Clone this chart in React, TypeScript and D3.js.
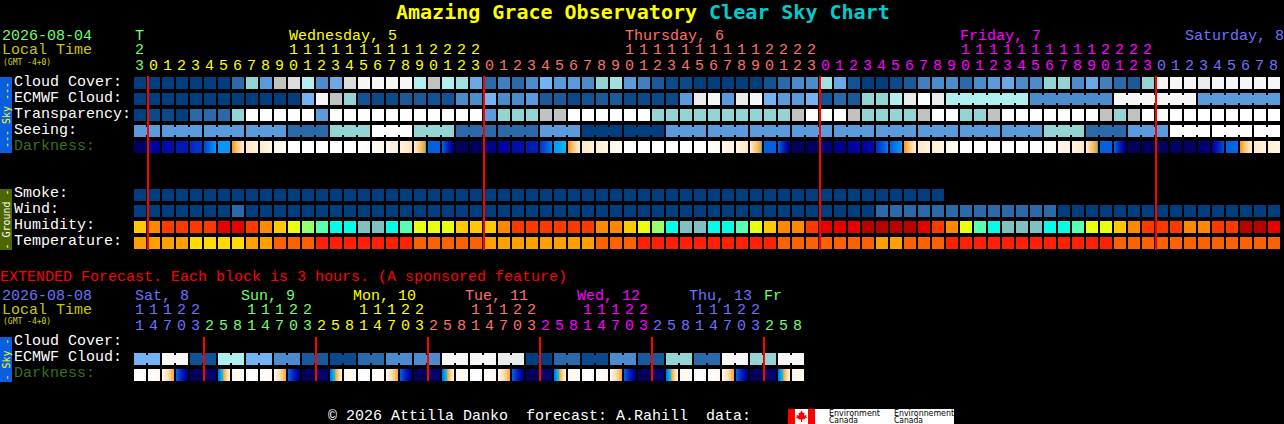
import React from 'react';
import * as d3 from 'd3';

// Hour labels, one per column
const mainHours = [23, 0, 1, 2, 3, 4, 5, 6, 7, 8, 9, 10, 11, 12, 13, 14, 15, 16, 17, 18, 19, 20, 21, 22, 23, 0, 1, 2, 3, 4, 5, 6, 7, 8, 9, 10, 11, 12, 13, 14, 15, 16, 17, 18, 19, 20, 21, 22, 23, 0, 1, 2, 3, 4, 5, 6, 7, 8, 9, 10, 11, 12, 13, 14, 15, 16, 17, 18, 19, 20, 21, 22, 23, 0, 1, 2, 3, 4, 5, 6, 7, 8];
const extHours = [11, 14, 17, 20, 23, 2, 5, 8, 11, 14, 17, 20, 23, 2, 5, 8, 11, 14, 17, 20, 23, 2, 5, 8, 11, 14, 17, 20, 23, 2, 5, 8, 11, 14, 17, 20, 23, 2, 5, 8, 11, 14, 17, 20, 23, 2, 5, 8];

const GREEN = '#70ff70';
const YELLOW = '#ffff00';
const SALMON = '#ff7070';
const MAGENTA = '#ff00ff';
const BLUE = '#7070ff';
const mainDayColors = [GREEN, YELLOW, SALMON, MAGENTA, BLUE];
const extDayColors = [BLUE, GREEN, YELLOW, SALMON, MAGENTA, BLUE, GREEN];

const mainDays = ['T', 'Wednesday, 5', 'Thursday, 6', 'Friday, 7', 'Saturday, 8'];
const extDays = ['Sat, 8', 'Sun, 9', 'Mon, 10', 'Tue, 11', 'Wed, 12', 'Thu, 13', 'Fr'];

// Sky rows: levels index into skyPalette
const cloudCover = [0, 0, 0, 0, 0, 0, 0, 4, 10, 7, 13, 14, 12, 6, 8, 14, 16, 16, 16, 16, 12, 13, 12, 11, 8, 4, 5, 4, 6, 9, 7, 7, 6, 10, 11, 7, 5, 3, 1, 1, 0, 0, 0, 0, 0, 2, 4, 6, 6, 11, 8, 2, 0, 0, 1, 3, 5, 6, 6, 4, 6, 7, 8, 6, 6, 10, 10, 6, 8, 5, 4, 3, 10, 16, 16, 16, 15, 16, 16, 16, 16, 16];
const ecmwfCloud = [0, 0, 0, 0, 0, 0, 0, 0, 0, 0, 0, 0, 9, 16, 13, 10, 2, 1, 1, 3, 3, 2, 2, 6, 6, 9, 6, 6, 7, 3, 3, 1, 2, 3, 3, 1, 1, 1, 1, 7, 15, 16, 7, 15, 16, 9, 7, 7, 9, 2, 4, 3, 10, 10, 12, 15, 17, 15, 12, 6, 16, 7];
const ecmwfSpans = [1, 1, 1, 1, 1, 1, 1, 1, 1, 1, 1, 1, 1, 1, 1, 1, 1, 1, 1, 1, 1, 1, 1, 1, 1, 1, 1, 1, 1, 1, 1, 1, 1, 1, 1, 1, 1, 1, 1, 1, 1, 1, 1, 1, 1, 1, 1, 1, 1, 1, 1, 1, 1, 1, 1, 1, 1, 1, 6, 6, 6, 6];
const transparency = [0, 1, 1, 0, 4, 4, 4, 10, 17, 17, 17, 17, 17, 7, 17, 17, 17, 17, 17, 17, 17, 17, 17, 17, 17, 7, 10, 10, 10, 13, 13, 17, 17, 17, 17, 17, 17, 10, 10, 10, 10, 10, 10, 10, 10, 10, 10, 13, 17, 17, 17, 13, 10, 10, 10, 10, 13, 17, 17, 10, 10, 13, 17, 17, 17, 17, 17, 17, 17, 13, 10, 13, 17, 17, 17, 17, 17, 17, 17, 17, 17, 17];
const seeing = [7, 7, 7, 7, 4, 10, 17, 10, 4, 4, 7, 0, 0, 7, 7, 7, 7, 7, 7, 7, 7, 7, 10, 4, 7, 17, 17, 17];
const seeingSpans = [2, 3, 3, 3, 3, 3, 3, 3, 3, 3, 3, 3, 3, 3, 3, 3, 3, 3, 3, 3, 3, 3, 3, 3, 3, 3, 3, 2];

// Sky brightness at the left and right edge of each block, as limiting magnitude (negative is daylight)
const darknessLeft = [5.8, 5, 4.6, 4, 3.5, 2.5, 1, -0.1, -2, -2.2, -3, -4, -4, -4, -4, -4, -4, -3.5, -3.1, -2.7, -2, 2, 2, 5.9, 5.9, 5.5, 5, 4.5, 4, 3, 1, -0.1, -2, -2.3, -3, -4, -4, -4, -4, -4, -4, -3.9, -3.2, -2.8, -2, 2, 2, 5.9, 5.9, 5.7, 5.3, 5, 5, 3.2, 2, -0.1, -2, -2.4, -3, -4, -4, -4, -4, -4, -4, -3.8, -3.2, -2.8, -2, 2, 2, 5.9, 5.9, 5.9, 5.8, 5.8, 5.6, 5, 2, -0.1, -2, -2.4];
const darknessRight = [5.6, 5, 4.4, 4, 3, 1, 1, -2.2, -2.6, -3, -3.5, -4, -4, -4, -4, -4, -3.6, -3.1, -2.5, -1.8, 0, 2, 5.5, 5.9, 5.9, 5.2, 4.8, 4.4, 3.8, 1.5, 0.4, -2.2, -2.6, -3, -3.6, -4, -4, -4, -4, -4, -4, -3.5, -2.7, -2, 0, 2, 5.5, 5.9, 5.9, 5.5, 5.2, 4.8, 4.6, 1.5, 1, -2.2, -2.7, -3, -3.6, -4, -4, -4, -4, -4, -4, -3.4, -2.7, -2, 0, 2, 5.5, 5.9, 5.9, 5.9, 5.8, 5.8, 5.4, 2.5, 1.8, -2.2, -2.7, -3];

// Ground rows
const smoke = [0, 0, 0, 0, 0, 0, 0, 0, 0, 0, 0, 0, 0, 0, 0, 0, 0, 0, 0, 0, 0, 0, 0, 0, 0, 0, 0, 0, 0, 0, 0, 0, 0, 0, 0, 0, 0, 0, 0, 0, 0, 0, 0, 0, 0, 0, 0, 0, 0, 0, 0, 0, 0, 0, 0, 0, 0, 0];
const wind = [0, 0, 0, 0, 0, 0, 0, 4, 0, 0, 0, 0, 0, 0, 0, 0, 0, 0, 0, 0, 0, 0, 0, 0, 0, 0, 0, 0, 0, 0, 0, 0, 0, 0, 0, 0, 0, 0, 0, 0, 0, 0, 0, 0, 0, 0, 0, 0, 0, 0, 0, 0, 0, 4, 4, 4, 4, 4, 4, 4, 4, 4, 4, 4, 4, 4, 0, 0, 0, 0, 0, 0, 0, 0, 0, 0, 0, 0, 0, 0, 0, 0];
const humidity = [4, 3, 2, 2, 2, 2, 1, 1, 2, 3, 4, 5, 6, 7, 8, 8, 9, 9, 8, 7, 5, 5, 5, 4, 4, 4, 3, 2, 2, 2, 2, 2, 2, 3, 3, 4, 5, 6, 8, 9, 9, 8, 8, 7, 5, 4, 3, 3, 2, 1, 1, 1, 0, 0, 0, 0, 1, 2, 3, 5, 7, 8, 9, 9, 9, 8, 8, 7, 5, 5, 4, 3, 2, 2, 2, 3, 3, 2, 2, 0, 0, 1];
const temperature = [2, 2, 2, 2, 3, 3, 3, 3, 2, 2, 1, 1, 1, 0, 0, 0, 0, 0, 0, 0, 1, 1, 1, 1, 1, 2, 2, 2, 2, 2, 2, 2, 2, 1, 1, 1, 0, 0, 0, 0, 0, 0, 0, 0, 0, 0, 1, 1, 1, 1, 1, 1, 1, 2, 2, 1, 1, 1, 0, 0, 0, 0, 0, 0, 0, 0, 0, 0, 0, 0, 1, 1, 1, 1, 1, 1, 1, 1, 1, 1, 1, 1];

// Extended forecast
const extEcmwf = [9, 16, 2, 12, 9, 6, 3, 1, 4, 6, 6, 16, 16, 15, 0, 4, 1, 6, 3, 10, 4, 16, 10, 16];
const extEcmwfSpans = [2, 2, 2, 2, 2, 2, 2, 2, 2, 2, 2, 2, 2, 2, 2, 2, 2, 2, 2, 2, 2, 2, 2, 2];
const extDarkLeft = [-4, -4, -3, 2, 5.9, 5.8, 1.6, -3, -4, -4, -3, 2, 5.9, 5.8, 1.6, -3, -4, -4, -3, 2, 5.9, 5.8, 1.6, -3, -4, -4, -3, 2, 5.9, 5.8, 1.6, -3, -4, -4, -3, 2, 5.9, 5.8, 1.6, -3, -4, -4, -3, 2, 5.9, 5.8, 1.6, -3];
const extDarkRight = [-4, -3.2, -0.3, 5.5, 5.9, 5.6, -2.4, -3.8, -4, -3.4, -0.3, 5.5, 5.9, 5.6, -2.4, -3.8, -4, -3.4, -0.3, 5.5, 5.9, 5.6, -2.4, -3.8, -4, -3.2, -0.3, 5.5, 5.9, 5.6, -2.4, -3.8, -4, -3.2, -0.3, 5.5, 5.9, 5.6, -2.4, -3.8, -4, -3.2, -0.3, 5.5, 5.9, 5.6, -2.4, -3.5];

const skyPalette = ['#003f7f', '#0a4a8a', '#0f5296', '#1a5a9a', '#2a6aaa', '#4080c0', '#4a8ccc', '#5a9bde', '#6aa8e8', '#73b3f3', '#93d5d5', '#a0e0e0', '#afefef', '#c2c2c2', '#dcdcdc', '#ebebeb', '#f6f6f6', '#ffffff'];
const humidityPalette = ['#b80000', '#e80000', '#ff3800', '#ff8800', '#ffc800', '#e8ff10', '#98ff68', '#58ffb0', '#00ffe8', '#80c0c0'];
const temperaturePalette = ['#ff2000', '#ff6000', '#ffa000', '#ffdc00'];

const skyColor = d3.scaleOrdinal<number, string>().domain(d3.range(skyPalette.length)).range(skyPalette);
const humidityColor = d3.scaleOrdinal<number, string>().domain(d3.range(humidityPalette.length)).range(humidityPalette);
const temperatureColor = d3.scaleOrdinal<number, string>().domain(d3.range(temperaturePalette.length)).range(temperaturePalette);
const darknessColor = d3.scaleLinear<string>()
  .domain([6, 5.5, 5, 4, 3, 2, 1, 0, -0.1, -1, -2, -3, -4])
  .range(['#000058', '#000078', '#0000a0', '#0018b4', '#0038cc', '#0060e0', '#0098ff', '#00d0e0', '#ff9818', '#ffc878', '#ffe8c4', '#fff6e8', '#ffffff']);

const x = d3.scaleLinear().domain([0, 82]).range([134, 1282]);
const CELL = 12;
const MONO = '"Liberation Mono", monospace';
const DEJAVU = '"DejaVu Sans Mono", monospace';

// One row of blocks; a span above 1 joins its columns with a narrower strip
function CellRow({ y, values, spans, color }: { y: number; values: number[]; spans?: number[]; color: (v: number) => string }) {
  let col = 0;
  return (
    <g shapeRendering="crispEdges">
      {values.map((v, i) => {
        const span = spans ? spans[i] : 1;
        const start = col;
        col += span;
        return (
          <g key={i} fill={color(v)}>
            {d3.range(span).map(k => (
              <rect key={k} x={x(start + k)} y={y} width={CELL} height={CELL} />
            ))}
            {d3.range(span - 1).map(k => (
              <rect key={k} x={x(start + k) + CELL} y={y + 2} width={2} height={CELL - 4} />
            ))}
          </g>
        );
      })}
    </g>
  );
}

function DarknessRow({ y, left, right }: { y: number; left: number[]; right: number[] }) {
  return (
    <g shapeRendering="crispEdges">
      {left.map((l, i) => {
        const mix = d3.interpolateNumber(l, right[i]);
        return d3.range(CELL).map(px => (
          <rect key={`${i}-${px}`} x={x(i) + px} y={y} width={1} height={CELL} fill={darknessColor(mix(px / (CELL - 1)))} />
        ));
      })}
    </g>
  );
}

function HourTicks({ hours, colors, y }: { hours: number[]; colors: string[]; y: number }) {
  let day = 0;
  return (
    <g fontFamily={MONO} fontSize={15}>
      {hours.map((h, i) => {
        if (i > 0 && h < hours[i - 1]) day += 1;
        return (
          <g key={i} fill={colors[day]}>
            {h >= 10 && <text x={x(i) + 1} y={y - 16}>{Math.floor(h / 10)}</text>}
            <text x={x(i) + 1} y={y}>{h % 10}</text>
          </g>
        );
      })}
    </g>
  );
}

function Label({ y, text, fill = '#ffffff' }: { y: number; text: string; fill?: string }) {
  return <text x={14} y={y} fill={fill} fontFamily={MONO} fontSize={15}>{text}</text>;
}

function SideBar({ y, height, fill, text, textFill }: { y: number; height: number; fill: string; text: string; textFill: string }) {
  return (
    <g>
      <rect x={0} y={y} width={12} height={height} fill={fill} shapeRendering="crispEdges" />
      <text
        transform={`translate(9.5,${y + height / 2}) rotate(-90)`}
        textAnchor="middle"
        fill={textFill}
        fontFamily={DEJAVU}
        fontSize={10}
      >
        {text}
      </text>
    </g>
  );
}

export default function App() {
  const midnights = mainHours.flatMap((h, i) => (h === 0 ? [i] : []));
  const extMidnights = extHours.flatMap((h, i) => (i > 0 && h < extHours[i - 1] ? [i] : []));

  return (
    <div style={{ position: 'absolute', left: 0, top: 0, width: 1284, height: 424, background: '#000', overflow: 'hidden' }}>
      <svg width={1284} height={424} style={{ display: 'block' }}>
        <rect width={1284} height={424} fill="#000000" />

        <text x={396} y={19} fontFamily={DEJAVU} fontSize={20} fontWeight="bold" style={{ whiteSpace: 'pre' }}>
          <tspan fill="#ffff00">Amazing Grace Observatory</tspan>
          <tspan fill="#00cccc"> Clear Sky Chart</tspan>
        </text>

        {/* header */}
        <g fontFamily={MONO} fontSize={15}>
          <text x={2} y={39.5} fill={GREEN}>2026-08-04</text>
          <text x={2} y={54} fill="#c8c800">Local Time</text>
          <text x={135} y={39.5} fill={mainDayColors[0]}>{mainDays[0]}</text>
          <text x={289} y={39.5} fill={mainDayColors[1]}>{mainDays[1]}</text>
          <text x={625} y={39.5} fill={mainDayColors[2]}>{mainDays[2]}</text>
          <text x={960} y={39.5} fill={mainDayColors[3]}>{mainDays[3]}</text>
          <text x={1185} y={39.5} fill={mainDayColors[4]}>{mainDays[4]}</text>
        </g>
        <text x={3} y={65} fill="#d8d800" fontFamily={DEJAVU} fontSize={8}>(GMT -4+0)</text>
        <HourTicks hours={mainHours} colors={mainDayColors} y={70} />

        {/* sky */}
        <SideBar y={77} height={76} fill="#0a5fe0" text="--- Sky ---" textFill="#ffff00" />
        <Label y={86} text="Cloud Cover:" />
        <Label y={102} text="ECMWF Cloud:" />
        <Label y={118} text="Transparency:" />
        <Label y={134} text="Seeing:" />
        <Label y={150} text="Darkness:" fill="#38701e" />
        <CellRow y={77} values={cloudCover} color={skyColor} />
        <CellRow y={93} values={ecmwfCloud} spans={ecmwfSpans} color={skyColor} />
        <CellRow y={109} values={transparency} color={skyColor} />
        <CellRow y={125} values={seeing} spans={seeingSpans} color={skyColor} />
        <DarknessRow y={141} left={darknessLeft} right={darknessRight} />

        {/* ground */}
        <SideBar y={189} height={61} fill="#4d6600" text="- Ground -" textFill="#ffffff" />
        <Label y={197} text="Smoke:" />
        <Label y={213} text="Wind:" />
        <Label y={229} text="Humidity:" />
        <Label y={245} text="Temperature:" />
        <CellRow y={189} values={smoke} color={skyColor} />
        <CellRow y={205} values={wind} color={skyColor} />
        <CellRow y={221} values={humidity} color={humidityColor} />
        <CellRow y={237} values={temperature} color={temperatureColor} />

        {midnights.map(i => (
          <rect key={i} x={x(i) - 1} y={76} width={2} height={174} fill="#ff0000" shapeRendering="crispEdges" />
        ))}

        {/* extended forecast */}
        <g fontFamily={MONO} fontSize={15}>
          <text x={0} y={280.5} fill="#ff0000">EXTENDED Forecast. Each block is 3 hours. (A sponsored feature)</text>
          <text x={2} y={299.5} fill={BLUE}>2026-08-08</text>
          <text x={2} y={314} fill="#c8c800">Local Time</text>
          <text x={135} y={299.5} fill={extDayColors[0]}>{extDays[0]}</text>
          <text x={241} y={299.5} fill={extDayColors[1]}>{extDays[1]}</text>
          <text x={353} y={299.5} fill={extDayColors[2]}>{extDays[2]}</text>
          <text x={465} y={299.5} fill={extDayColors[3]}>{extDays[3]}</text>
          <text x={577} y={299.5} fill={extDayColors[4]}>{extDays[4]}</text>
          <text x={689} y={299.5} fill={extDayColors[5]}>{extDays[5]}</text>
          <text x={764} y={299.5} fill={extDayColors[6]}>{extDays[6]}</text>
        </g>
        <text x={3} y={324} fill="#d8d800" fontFamily={DEJAVU} fontSize={8}>(GMT -4+0)</text>
        <HourTicks hours={extHours} colors={extDayColors} y={330} />

        <SideBar y={337} height={45} fill="#0a5fe0" text="- Sky -" textFill="#ffff00" />
        <Label y={345} text="Cloud Cover:" />
        <Label y={361} text="ECMWF Cloud:" />
        <Label y={377} text="Darkness:" fill="#38701e" />
        <CellRow y={353} values={extEcmwf} spans={extEcmwfSpans} color={skyColor} />
        <DarknessRow y={369} left={extDarkLeft} right={extDarkRight} />

        {extMidnights.map(i => (
          <rect key={i} x={x(i) - 1} y={337} width={2} height={44} fill="#ff0000" shapeRendering="crispEdges" />
        ))}

        {/* footer */}
        <text x={328} y={420} fill="#ffffff" fontFamily={MONO} fontSize={15} style={{ whiteSpace: 'pre' }}>
          © 2026 Attilla Danko  forecast: A.Rahill  data:
        </text>
        <g>
          <rect x={788} y={409} width={166} height={15} fill="#ffffff" shapeRendering="crispEdges" />
          <rect x={788} y={409} width={7} height={15} fill="#ff0000" shapeRendering="crispEdges" />
          <rect x={808} y={409} width={7} height={15} fill="#ff0000" shapeRendering="crispEdges" />
          <path
            d="M801.5 410.5 L803 413 L804.5 412.5 L804 415.5 L806.5 415 L806 416.5 L807 417.5 L803.5 419.5 L802 419.5 L802 422 L801 422 L801 419.5 L799.5 419.5 L796 417.5 L797 416.5 L796.5 415 L799 415.5 L798.5 412.5 L800 413 Z"
            fill="#ff0000"
          />
          <g fill="#000000" fontFamily='"DejaVu Sans", sans-serif' fontSize={8}>
            <text x={829} y={415.5} textLength={51} lengthAdjust="spacingAndGlyphs">Environment</text>
            <text x={829} y={422.5} textLength={29} lengthAdjust="spacingAndGlyphs">Canada</text>
            <text x={894} y={415.5} textLength={60} lengthAdjust="spacingAndGlyphs">Environnement</text>
            <text x={894} y={422.5} textLength={29} lengthAdjust="spacingAndGlyphs">Canada</text>
          </g>
        </g>
      </svg>
    </div>
  );
}
